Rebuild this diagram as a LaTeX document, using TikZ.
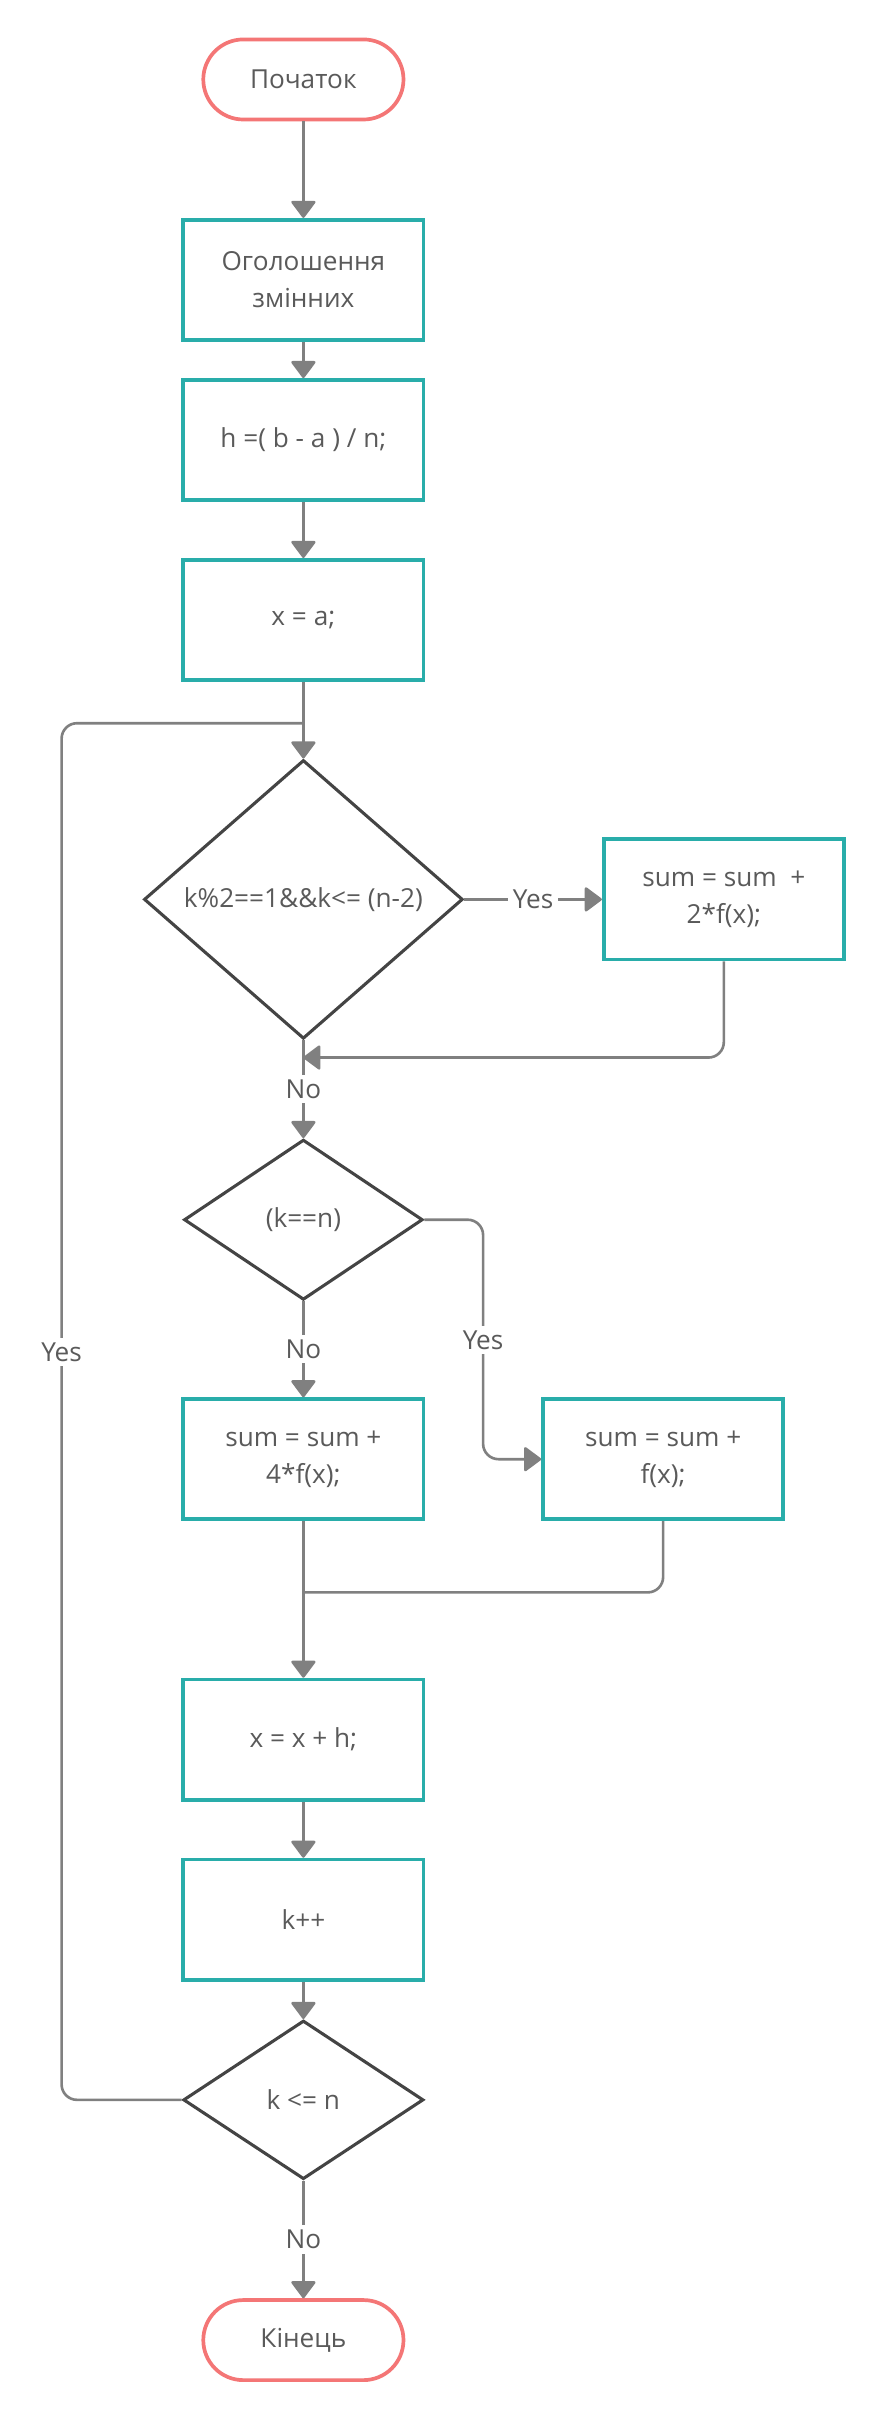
\documentclass[tikz,border=0pt]{standalone}
\usepackage{fontspec}
\setmainfont{Open Sans}
\usetikzlibrary{arrows.meta,shapes.geometric}
\definecolor{teal1}{RGB}{41,173,170}
\definecolor{pink1}{RGB}{244,118,118}
\definecolor{dia}{RGB}{68,68,68}
\definecolor{conn}{RGB}{128,128,128}
\definecolor{txt}{RGB}{90,90,90}
\tikzset{
  every node/.style={font=\fontsize{17}{24}\selectfont, text=txt},
  term/.style={draw=pink1, line width=2.4pt, rectangle, rounded corners=26pt, minimum width=130pt, minimum height=52pt, fill=white},
  proc/.style={draw=teal1, line width=2.4pt, rectangle, minimum width=156pt, minimum height=78pt, align=center, fill=white},
  dec/.style={draw=dia, line width=2pt, diamond, inner sep=0pt, fill=white},
  cline/.style={draw=conn, line width=1.7pt},
  arr/.style={cline, -{Triangle[length=11.7pt, width=17pt, round]}},
  lbl/.style={fill=white, inner sep=3pt},
}
\begin{document}
\begin{tikzpicture}[x=1pt, y=-1pt]
\useasboundingbox[fill=white] (0,0) rectangle (574,1571.4);
% nodes
\node[term] (start) at (197,51.6) {Початок};
\node[proc] (decl) at (197,181.7) {Оголошення\\змінних};
\node[proc] (hcalc) at (197,285.7) {h =( b - a ) / n;};
\node[proc] (xa) at (197,402.5) {x = a;};
\node[dec, minimum width=207pt, minimum height=181pt] (d1) at (197,584) {k\%2==1\&\&k<= (n-2)};
\node[proc] (sum2) at (470,584) {sum = sum~~+\\2*f(x);};
\node[dec, minimum width=155pt, minimum height=104pt] (d2) at (197,792) {(k==n)};
\node[proc] (sum4) at (197,947.5) {sum = sum +\\4*f(x);};
\node[proc] (sum1) at (430.6,947.5) {sum = sum +\\f(x);};
\node[proc] (xh) at (197,1129.6) {x = x + h;};
\node[proc] (kpp) at (197,1246.5) {k++};
\node[dec, minimum width=156pt, minimum height=103pt] (d3) at (197,1363.5) {k <= n};
\node[term] (end) at (197,1519.5) {Кінець};
% helper coordinates
\coordinate (jn) at (197,469.6);
\coordinate (lpx) at (40,469.6);
\coordinate (ret) at (197,686.7);
\coordinate (yx) at (313.7,870);
\coordinate (mrg) at (197,1034);
% connectors
\draw[arr] (start) -- (decl);
\draw[arr] (decl) -- (hcalc);
\draw[arr] (hcalc) -- (xa);
\draw[arr] (xa) -- (d1.north);
\draw[cline, rounded corners=10pt] (d3.west) -| (lpx) -- (jn);
\node[lbl] (yesL) at (40,878) {Yes};
\draw[arr] (d1.east) -- node[lbl] (yes1) {Yes} (sum2.west);
\draw[arr, rounded corners=10pt] (sum2.south) |- (ret);
\draw[arr] (d1.south) -- node[lbl] (no1) {No} (d2.north);
\draw[arr, rounded corners=10pt] (d2.east) -| (yx) |- (sum1.west);
\node[lbl] (yes2) at (yx) {Yes};
\draw[arr] (d2.south) -- node[lbl] (no2) {No} (sum4.north);
\draw[arr] (sum4) -- (xh);
\draw[cline, rounded corners=10pt] (sum1.south) |- (mrg);
\draw[arr] (xh) -- (kpp);
\draw[arr] (kpp) -- (d3.north);
\draw[arr] (d3.south) -- node[lbl] (no3) {No} (end.north);
\end{tikzpicture}
\end{document}
